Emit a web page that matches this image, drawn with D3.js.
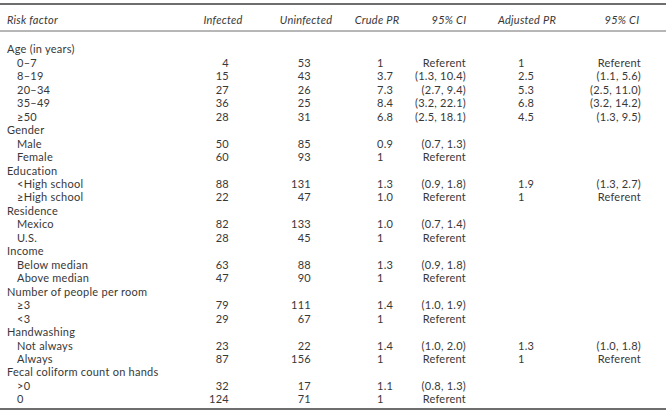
<!DOCTYPE html>
<html><head><meta charset="utf-8">
<script src="https://cdn.jsdelivr.net/npm/d3@7"></script>
<style>
html,body{margin:0;padding:0;background:#fff;}
svg text{font-family:Lato,"Open Sans",sans-serif;font-size:11px;letter-spacing:0.25px;fill:#383838;}
</style></head>
<body><svg id="t" width="669" height="417"></svg>
<script>
const headers = ["Risk factor","Infected","Uninfected","Crude PR","95% CI","Adjusted PR","95% CI"];
const groups = ["Age (in years)","Gender","Education","Residence","Income","Number of people per room","Handwashing","Fecal coliform count on hands"];
const groupSizes = [5,2,2,2,2,2,2,2];
const subcategories = ["0–7","8–19","20–34","35–49","≥50","Male","Female","<High school","≥High school","Mexico","U.S.","Below median","Above median","≥3","<3","Not always","Always",">0","0"];
const infected = [4,15,27,36,28,50,60,88,22,82,28,63,47,79,29,23,87,32,124];
const uninfected = [53,43,26,25,31,85,93,131,47,133,45,88,90,111,67,22,156,17,71];
const crudePR = ["1","3.7","7.3","8.4","6.8","0.9","1","1.3","1.0","1.0","1","1.3","1","1.4","1","1.4","1","1.1","1"];
const crudeCI = ["Referent","(1.3, 10.4)","(2.7, 9.4)","(3.2, 22.1)","(2.5, 18.1)","(0.7, 1.3)","Referent","(0.9, 1.8)","Referent","(0.7, 1.4)","Referent","(0.9, 1.8)","Referent","(1.0, 1.9)","Referent","(1.0, 2.0)","Referent","(0.8, 1.3)","Referent"];
const adjustedPR = ["1","2.5","5.3","6.8","4.5","","","1.9","1","","","","","","","1.3","1","",""];
const adjustedCI = ["Referent","(1.1, 5.6)","(2.5, 11.0)","(3.2, 14.2)","(1.3, 9.5)","","","(1.3, 2.7)","Referent","","","","","","","(1.0, 1.8)","Referent","",""];

// build rows
const rows = [];
let k = 0;
groups.forEach((g, gi) => {
  rows.push({label: g, group: true});
  for (let j = 0; j < groupSizes[gi]; j++, k++) {
    rows.push({label: subcategories[k], group: false,
      vals: [infected[k], uninfected[k], crudePR[k], crudeCI[k], adjustedPR[k], adjustedCI[k]]});
  }
});

const svg = d3.select("#t");
const y = d3.scalePoint().domain(d3.range(rows.length)).range([49.5, 399.5]);

const colX = d3.scaleOrdinal().domain(d3.range(6)).range([229, 311, 377, 466, 518, 641]);
const colAnchor = d3.scaleOrdinal().domain(d3.range(6)).range(["end","end","start","end","start","end"]);
const headX = d3.scaleOrdinal().domain(d3.range(7)).range([7, 223, 306, 377, 449, 527, 622]);

const rule = svg.append("g");
rule.append("line").attr("x1",0).attr("x2",666).attr("y1",4).attr("y2",4).attr("stroke","#6e6e6e").attr("stroke-width",2);
rule.append("line").attr("x1",0).attr("x2",666).attr("y1",31).attr("y2",31).attr("stroke","#6e6e6e").attr("stroke-width",1);
rule.append("line").attr("x1",0).attr("x2",666).attr("y1",409).attr("y2",409).attr("stroke","#6e6e6e").attr("stroke-width",2);

svg.append("g").selectAll("text").data(headers).join("text")
  .attr("x", (d,i) => headX(i)).attr("y", 20).attr("dy","0.35em")
  .attr("text-anchor", (d,i) => i === 0 ? "start" : "middle")
  .style("font-style","italic").text(d => d);

const rg = svg.append("g").selectAll("g").data(rows).join("g")
  .attr("transform", (d,i) => `translate(0,${y(i)})`);
rg.append("text").attr("x", d => d.group ? 7 : 17).attr("dy","0.35em").text(d => d.label);
rg.filter(d => !d.group).selectAll("text.v").data(d => d.vals).join("text").attr("class","v")
  .attr("x", (d,i) => colX(i)).attr("dy","0.35em").attr("text-anchor",(d,i)=>colAnchor(i)).text(d => d);
</script></body></html>
